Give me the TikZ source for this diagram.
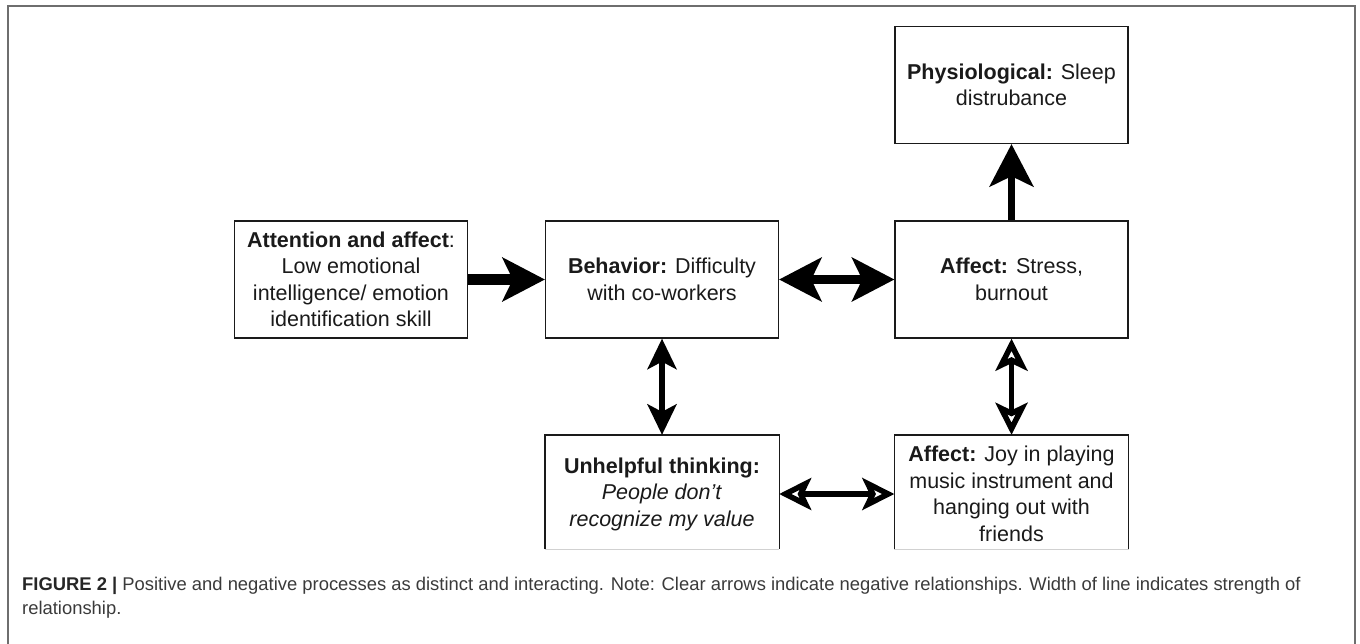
\documentclass[tikz,border=0pt]{standalone}
\usepackage{fontspec}
\setmainfont{Liberation Sans}
\usetikzlibrary{arrows.meta}
\definecolor{txt}{HTML}{1A1A1A}
\definecolor{framec}{HTML}{6E6E6E}
\definecolor{capc}{HTML}{3A3A3A}
\tikzset{
  box/.style={draw=txt, line width=1.4pt, minimum width=233pt, minimum height=117pt,
    inner sep=0pt, align=center, font=\fontsize{21.5}{26.5}\selectfont, text=txt},
  cutbox/.style={box, draw=none},
  solidA/.tip={Stealth[length=43pt,width=45pt,inset=11pt,line width=0pt]},
  solidB/.tip={Stealth[length=31pt,width=30pt,inset=8pt,line width=0pt]},
  hollowB/.tip={Stealth[open,length=32pt,width=32pt,inset=7.5pt,line width=5.5pt]},
  conn/.style={draw=black, line cap=butt},
}
\begin{document}
\begin{tikzpicture}[x=1pt,y=-1pt]
\useasboundingbox (0,0) rectangle (1360,644);
% outer frame (open at bottom)
\draw[framec, line width=2pt] (8,644) -- (8,6.5) -- (1355,6.5) -- (1355,644);

% top row
\node[box] (att) at (351,279.5) {\textbf{Attention and affect}:\\Low emotional\\intelligence/ emotion\\identification skill};
\node[box] (beh) at (662,279.5) {\textbf{Behavior:} Difficulty\\with co-workers};
\node[box] (str) at (1011.5,279.5) {\textbf{Affect:} Stress,\\burnout};
\node[box] (phy) at (1011.5,85) {\textbf{Physiological:} Sleep\\distrubance};

% bottom row (cut off at the bottom)
\node[cutbox] (unh) at (662,494) {\textbf{Unhelpful thinking:}\\\textit{People don't}\\\textit{recognize my value}};
\node[cutbox] (joy) at (1011.5,494) {\textbf{Affect:} Joy in playing\\music instrument and\\hanging out with\\friends};
\foreach \n in {unh,joy}{
  \draw[txt, line width=1.4pt] (\n.west |- 0,549) -- (\n.north west) -- (\n.north east) -- (\n.east |- 0,549);
  \draw[black!18, line width=1pt] (\n.west |- 0,549) -- (\n.east |- 0,549);
}

% connectors
\draw[conn, line width=11pt, -solidA] (att.east) -- (beh.west);
\draw[conn, line width=8.5pt, solidA-solidA] (beh.east) -- (str.west);
\draw[conn, line width=7.5pt, -solidA] (str.north) -- (phy.south);
\draw[conn, line width=5.5pt, solidB-solidB] (beh.south) -- (unh.north);
\draw[conn, line width=4.5pt, hollowB-hollowB] (str.south) -- (joy.north);
\draw[conn, line width=5.5pt, hollowB-hollowB] (unh.east) -- (joy.west);

% caption
\node[anchor=base west, align=left, inner sep=0pt, text=capc,
      font=\fontsize{18.4}{24}\selectfont] (cap) at (22,614)
  {{\bfseries\color{black!85}FIGURE 2 |} Positive and negative processes as distinct and interacting. Note: Clear arrows indicate negative relationships. Width of line indicates strength of\\relationship.};
\end{tikzpicture}
\end{document}
